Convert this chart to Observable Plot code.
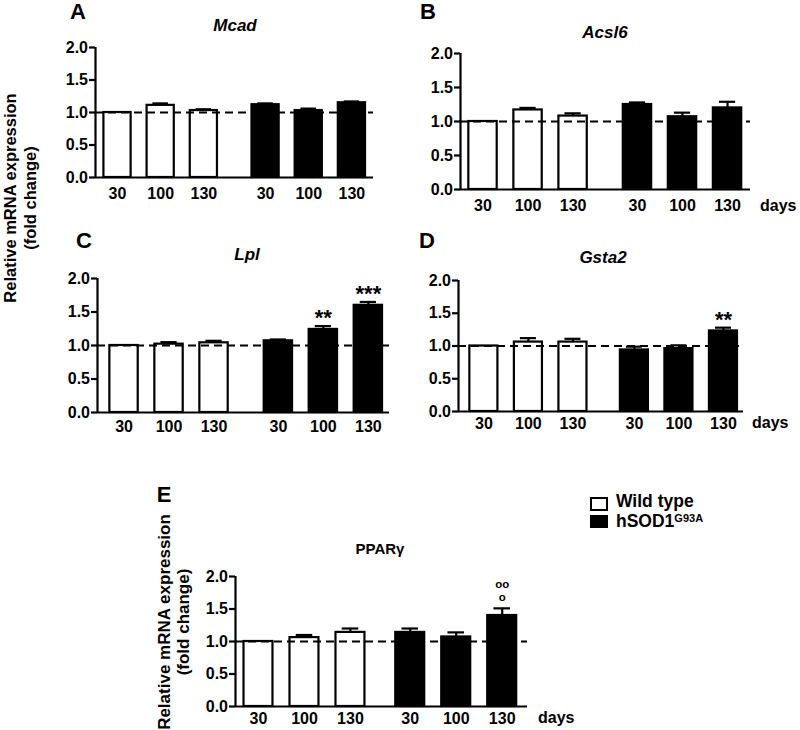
<!DOCTYPE html>
<html>
<head>
<meta charset="utf-8">
<script src="https://cdn.jsdelivr.net/npm/d3@7"></script>
<script src="https://cdn.jsdelivr.net/npm/@observablehq/plot@0.6"></script>
<style>
  html, body { margin: 0; padding: 0; background: #fff; }
  #fig { position: relative; width: 800px; height: 730px; font-family: "Liberation Sans", Arial, sans-serif; font-weight: bold; color: #000; }
  .lbl { position: absolute; white-space: nowrap; line-height: 1; }
  .c { transform: translate(-50%, -50%); }
  .l { transform: translate(0, -50%); }
  .rot { transform: translate(-50%, -50%) rotate(-90deg); }
</style>
</head>
<body>
<div id="fig"></div>
<script>
// ---- data ----
const days = ["30", "100", "130"];
const groups = ["Wild type", "hSOD1G93A"];

const mcadWT = [1.00, 1.11, 1.03];
const mcadWTErr = [0, 0.03, 0.02];
const mcadSOD = [1.12, 1.03, 1.15];
const mcadSODErr = [0.02, 0.03, 0.02];

const acslWT = [1.00, 1.17, 1.08];
const acslWTErr = [0, 0.03, 0.04];
const acslSOD = [1.25, 1.07, 1.20];
const acslSODErr = [0.03, 0.06, 0.09];

const lplWT = [1.00, 1.02, 1.04];
const lplWTErr = [0, 0.03, 0.03];
const lplSOD = [1.07, 1.24, 1.60];
const lplSODErr = [0.02, 0.05, 0.05];
const lplNotes = ["", "**", "***"];

const gstaWT = [1.00, 1.06, 1.06];
const gstaWTErr = [0, 0.06, 0.05];
const gstaSOD = [0.94, 0.96, 1.23];
const gstaSODErr = [0.05, 0.05, 0.05];
const gstaNotes = ["", "", "**"];

const pparWT = [1.00, 1.06, 1.14];
const pparWTErr = [0, 0.04, 0.06];
const pparSOD = [1.14, 1.07, 1.40];
const pparSODErr = [0.06, 0.07, 0.11];
const pparNotes = ["", "", "oo\no"];

const yTicks = [0, 0.5, 1.0, 1.5, 2.0];

// ---- drawing ----
const fig = document.getElementById("fig");
const FONT = '"Liberation Sans", Arial, sans-serif';
const TICK_FS = 16;

function rowsFor(wt, wtErr, sod, sodErr, notes, gap) {
  const rows = [];
  groups.forEach((g, gi) => {
    const vals = gi === 0 ? wt : sod;
    const errs = gi === 0 ? wtErr : sodErr;
    days.forEach((d, di) => {
      const i = gi * 3 + di;
      rows.push({
        group: g, day: d, value: vals[di], err: errs[di],
        note: gi === 1 && notes ? notes[di] : "",
        pos: i + (gi === 1 ? gap : 0)
      });
    });
  });
  return rows;
}

function panel(p) {
  const mL = 40, mR = 10, mT = 30, mB = 30;
  const rows = rowsFor(p.wt, p.wtErr, p.sod, p.sodErr, p.notes, p.gap);
  const errRows = rows.filter(d => d.err > 0);
  const half = 0.315, cap = 0.18;
  const labelOf = new Map(rows.map(d => [d.pos, d.day]));
  const svg = Plot.plot({
    width: (p.right - p.left) + mL + mR,
    height: (p.bottom - p.top) + mT + mB,
    marginLeft: mL, marginRight: mR, marginTop: mT, marginBottom: mB,
    x: {domain: [p.lo, p.hi], axis: null},
    y: {domain: [0, 2], axis: null},
    style: {fontFamily: FONT, fontWeight: "bold", fontSize: TICK_FS + "px", color: "#000", background: "transparent", overflow: "visible"},
    marks: [
      Plot.rectY(rows, {
        x1: d => d.pos - half, x2: d => d.pos + half, y1: 0, y2: "value",
        fill: d => d.group === groups[0] ? "#fff" : "#000",
        stroke: "#000", strokeWidth: 2.2
      }),
      Plot.ruleY([1], {stroke: "#000", strokeWidth: 2.2, strokeDasharray: "8,5"}),
      Plot.ruleX(errRows, {x: "pos", y1: "value", y2: d => d.value + d.err, stroke: "#000", strokeWidth: 2.2}),
      Plot.ruleY(errRows, {y: d => d.value + d.err, x1: d => d.pos - cap, x2: d => d.pos + cap, stroke: "#000", strokeWidth: 2.2}),
      Plot.text(rows.filter(d => d.note), {
        x: "pos", y: d => d.value + d.err, text: "note",
        lineAnchor: "bottom", dy: p.noteDy, fontSize: p.noteSize, lineHeight: p.noteLH, fontWeight: "bold"
      }),
      Plot.axisY({ticks: yTicks, tickFormat: d3.format(".1f"), tickSize: 6, tickPadding: 1.5, strokeWidth: 2.2,
        label: null, fontSize: TICK_FS, fontWeight: "bold"}),
      Plot.axisX({ticks: rows.map(d => d.pos), tickFormat: v => labelOf.get(v), tickSize: 0, tickPadding: p.padX,
        label: null, fontSize: TICK_FS, fontWeight: "bold"}),
      Plot.ruleX([p.lo], {stroke: "#000", strokeWidth: 2.2}),
      Plot.ruleY([0], {stroke: "#000", strokeWidth: 2.2})
    ]
  });
  const wrap = document.createElement("div");
  wrap.style.position = "absolute";
  wrap.style.left = (p.left - mL) + "px";
  wrap.style.top = (p.top - mT) + "px";
  wrap.appendChild(svg);
  fig.appendChild(wrap);
}

function label(text, x, y, cls, size, extra) {
  const el = document.createElement("div");
  el.className = "lbl " + cls;
  el.style.left = x + "px";
  el.style.top = y + "px";
  el.style.fontSize = size + "px";
  if (extra) Object.assign(el.style, extra);
  el.innerHTML = text;
  fig.appendChild(el);
  return el;
}

panel({wt: mcadWT, wtErr: mcadWTErr, sod: mcadSOD, sodErr: mcadSODErr,
  left: 95, top: 47, bottom: 177, right: 373, lo: -0.51, hi: 5.93, gap: 0.43, padX: 10});
panel({wt: acslWT, wtErr: acslWTErr, sod: acslSOD, sodErr: acslSODErr,
  left: 460, top: 53, bottom: 189, right: 750, lo: -0.5, hi: 5.94, gap: 0.43, padX: 10});
panel({wt: lplWT, wtErr: lplWTErr, sod: lplSOD, sodErr: lplSODErr, notes: lplNotes, noteDy: -1, noteSize: 22, noteLH: 1,
  left: 97, top: 278, bottom: 412, right: 389, lo: -0.59, hi: 5.9, gap: 0.43, padX: 8.5});
panel({wt: gstaWT, wtErr: gstaWTErr, sod: gstaSOD, sodErr: gstaSODErr, notes: gstaNotes, noteDy: -1, noteSize: 22, noteLH: 1,
  left: 458, top: 280, bottom: 411, right: 743, lo: -0.57, hi: 5.83, gap: 0.38, padX: 6.5});
panel({wt: pparWT, wtErr: pparWTErr, sod: pparSOD, sodErr: pparSODErr, notes: pparNotes, noteDy: -7, noteSize: 11.5, noteLH: 1.2,
  left: 235, top: 576, bottom: 706, right: 527, lo: -0.5, hi: 5.85, gap: 0.3, padX: 6});

// panel letters
label("A", 78, 12, "c", 22);
label("B", 428, 12, "c", 22);
label("C", 84, 241, "c", 22);
label("D", 427, 241, "c", 22);
label("E", 164, 495, "c", 22);

// gene titles
label("Mcad", 235, 25, "c", 17, {fontStyle: "italic"});
label("Acsl6", 605, 32, "c", 17, {fontStyle: "italic"});
label("Lpl", 247, 254, "c", 17, {fontStyle: "italic"});
label("Gsta2", 603, 257, "c", 17, {fontStyle: "italic"});
label("PPARγ", 380, 548, "c", 15);

// x unit labels
label("days", 760, 206, "l", TICK_FS);
label("days", 752, 423, "l", TICK_FS);
label("days", 538, 718, "l", TICK_FS);

// y titles
label("Relative mRNA expression", 10, 198, "rot", 16.5);
label("(fold change)", 30, 198, "rot", 16.5);
label("Relative mRNA expression", 164, 622, "rot", 17);
label("(fold change)", 183, 622, "rot", 17);

// legend
label("", 590, 497, "", 0, {width: "14px", height: "10px", border: "2px solid #000", background: "#fff"});
label("", 590, 515, "", 0, {width: "18px", height: "13px", background: "#000"});
label(groups[0], 616, 502, "l", 17.5);
label('hSOD1<sup style="font-size:11px;vertical-align:5px;line-height:1">G93A</sup>', 616, 522, "l", 17.5);
</script>
</body>
</html>
